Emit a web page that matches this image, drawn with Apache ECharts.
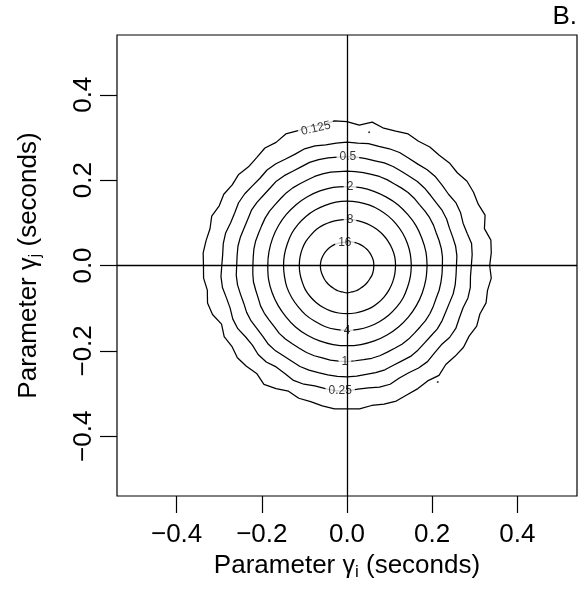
<!DOCTYPE html>
<html><head><meta charset="utf-8">
<script src="https://cdn.jsdelivr.net/npm/echarts@6/dist/echarts.min.js"></script>
<style>html,body{margin:0;padding:0;background:#fff}#c{width:584px;height:597px}</style>
</head><body><div id="c"></div><script>
// sample angles (degrees, counter-clockwise from +x) at which contour radii were read
const angles36 = [0,10,20,30,40,50,60,70,80,90,100,110,120,130,140,150,160,170,180,190,200,210,220,230,240,250,260,270,280,290,300,310,320,330,340,350];
const angles72 = [0,5,10,15,20,25,30,35,40,45,50,55,60,65,70,75,80,85,90,95,100,105,110,115,120,125,130,135,140,145,150,155,160,165,170,175,180,185,190,195,200,205,210,215,220,225,230,235,240,245,250,255,260,265,270,275,280,285,290,295,300,305,310,315,320,325,330,335,340,345,350,355];
const levels = ['16','8','4','2','1','0.5','0.25','0.125'];
// inner contours (smooth), read every 10 degrees
const r16 = [0.063,0.063,0.062,0.061,0.060,0.059,0.058,0.057,0.056,0.055,0.055,0.056,0.057,0.058,0.059,0.060,0.061,0.062,0.0625,0.0625,0.062,0.062,0.062,0.062,0.062,0.063,0.063,0.064,0.063,0.063,0.062,0.062,0.062,0.062,0.063,0.063];
const r8 = [0.114,0.114,0.113,0.112,0.111,0.110,0.109,0.108,0.108,0.108,0.108,0.109,0.110,0.111,0.111,0.112,0.112,0.112,0.112,0.112,0.112,0.113,0.113,0.113,0.113,0.113,0.113,0.113,0.113,0.113,0.114,0.114,0.114,0.114,0.114,0.114];
const r4 = [0.151,0.151,0.151,0.151,0.151,0.151,0.151,0.151,0.151,0.151,0.151,0.150,0.150,0.150,0.150,0.150,0.149,0.149,0.149,0.149,0.150,0.150,0.150,0.151,0.151,0.152,0.152,0.152,0.152,0.152,0.152,0.152,0.152,0.152,0.151,0.151];
const r2 = [0.188,0.188,0.187,0.187,0.186,0.186,0.185,0.185,0.185,0.185,0.186,0.186,0.186,0.186,0.186,0.186,0.186,0.186,0.186,0.187,0.187,0.187,0.187,0.188,0.188,0.188,0.188,0.188,0.188,0.188,0.188,0.188,0.188,0.188,0.188,0.188];
// outer contours (jagged), read every 5 degrees
const r1 = [0.224,0.225,0.225,0.224,0.223,0.224,0.224,0.223,0.222,0.223,0.223,0.222,0.221,0.222,0.222,0.221,0.221,0.221,0.221,0.221,0.222,0.222,0.222,0.221,0.221,0.222,0.222,0.221,0.221,0.222,0.222,0.221,0.221,0.222,0.222,0.221,0.221,0.222,0.223,0.222,0.222,0.224,0.224,0.223,0.223,0.225,0.225,0.224,0.224,0.225,0.225,0.224,0.225,0.225,0.225,0.224,0.224,0.225,0.225,0.224,0.224,0.225,0.225,0.224,0.224,0.225,0.225,0.224,0.223,0.224,0.224,0.224];
const r05 = [0.257,0.259,0.259,0.257,0.256,0.258,0.258,0.256,0.256,0.257,0.257,0.255,0.255,0.256,0.256,0.254,0.254,0.255,0.255,0.255,0.256,0.257,0.257,0.255,0.255,0.257,0.258,0.256,0.256,0.258,0.259,0.257,0.257,0.259,0.260,0.259,0.259,0.261,0.261,0.259,0.258,0.260,0.260,0.258,0.258,0.261,0.261,0.259,0.259,0.261,0.261,0.260,0.260,0.261,0.261,0.260,0.259,0.260,0.260,0.258,0.258,0.260,0.259,0.257,0.257,0.259,0.258,0.256,0.256,0.258,0.258,0.257];
const r025 = [0.292,0.295,0.297,0.292,0.290,0.294,0.295,0.291,0.292,0.294,0.293,0.290,0.290,0.292,0.291,0.289,0.290,0.288,0.289,0.288,0.287,0.290,0.291,0.288,0.288,0.291,0.292,0.289,0.290,0.293,0.294,0.291,0.291,0.295,0.295,0.293,0.294,0.297,0.297,0.293,0.292,0.296,0.296,0.291,0.290,0.295,0.295,0.290,0.292,0.297,0.296,0.292,0.293,0.295,0.294,0.291,0.291,0.295,0.296,0.291,0.290,0.293,0.294,0.290,0.289,0.294,0.295,0.291,0.290,0.294,0.294,0.291];
const r0125 = [0.335,0.340,0.343,0.334,0.345,0.340,0.343,0.344,0.338,0.340,0.337,0.339,0.336,0.340,0.335,0.333,0.341,0.330,0.337,0.340,0.334,0.338,0.336,0.340,0.333,0.336,0.330,0.327,0.332,0.329,0.334,0.331,0.338,0.333,0.336,0.339,0.337,0.338,0.333,0.339,0.336,0.325,0.333,0.330,0.336,0.334,0.330,0.340,0.333,0.325,0.331,0.330,0.334,0.337,0.336,0.337,0.333,0.336,0.338,0.334,0.333,0.330,0.336,0.328,0.331,0.334,0.331,0.336,0.332,0.338,0.335,0.340];
// contour labels: [x, y, text, rotation]
const contourLabels = [
  [-0.073, 0.321, '0.125', 13],
  [0.002, 0.256, '0.5', 0],
  [0.007, 0.184, '2', 0],
  [0.007, 0.108, '8', 0],
  [-0.005, 0.054, '16', 0],
  [0.000, -0.152, '4', 0],
  [-0.005, -0.225, '1', 0],
  [-0.016, -0.293, '0.25', 0]
];
const strayPoints = [[0.052, 0.312], [0.213, -0.273]];
const tickValues = [-0.4, -0.2, 0, 0.2, 0.4];
const tickLabels = ['\u22120.4', '\u22120.2', '0.0', '0.2', '0.4'];
const axisMin = -0.54, axisMax = 0.54;

const FONT = '"Liberation Sans", Arial, Helvetica, sans-serif';
const contours = [
  { r: r16, a: angles36, smooth: 0.35 },
  { r: r8, a: angles36, smooth: 0.35 },
  { r: r4, a: angles36, smooth: 0.35 },
  { r: r2, a: angles36, smooth: 0.35 },
  { r: r1, a: angles72, smooth: false },
  { r: r05, a: angles72, smooth: false },
  { r: r025, a: angles72, smooth: false },
  { r: r0125, a: angles72, smooth: false }
];

function ring(rs, ang) {
  const pts = rs.map((r, i) => {
    const a = ang[i] * Math.PI / 180;
    return [r * Math.cos(a), r * Math.sin(a)];
  });
  pts.push(pts[0]);
  return pts;
}
function fmtTick(v) {
  let best = 0;
  tickValues.forEach((t, i) => { if (Math.abs(t - v) < Math.abs(tickValues[best] - v)) best = i; });
  return tickLabels[best];
}

const series = [];
contours.forEach((c, k) => {
  series.push({
    type: 'line', name: levels[k], data: ring(c.r, c.a), symbol: 'none', smooth: c.smooth,
    lineStyle: { color: '#000', width: 1.25 }, z: 2, silent: true
  });
});
series.push({
  type: 'scatter', data: strayPoints, symbolSize: 2, itemStyle: { color: '#000' }, z: 2, silent: true
});
series.push({
  type: 'scatter', z: 3, silent: true, symbolSize: 0,
  data: contourLabels.map(d => ({
    value: [d[0], d[1]],
    label: {
      show: true, position: 'inside', formatter: d[2], rotate: d[3],
      fontFamily: FONT, fontSize: 12, color: '#000',
      backgroundColor: '#fff', padding: [0, 3, 0, 3]
    }
  }))
});
series.push({
  type: 'line', data: [], z: 5, silent: true,
  markLine: {
    silent: true, symbol: 'none', animation: false,
    lineStyle: { color: '#000', width: 1.3, type: 'solid' },
    label: { show: false },
    data: [{ xAxis: 0 }, { yAxis: 0 }]
  }
});

const richName = {
  t: { fontFamily: FONT, fontSize: 26, color: '#000', lineHeight: 30 },
  g: { fontFamily: FONT, fontSize: 25, color: '#000', lineHeight: 30 },
  s: { fontFamily: FONT, fontSize: 17, color: '#000', lineHeight: 17, verticalAlign: 'bottom' }
};

const chart = echarts.init(document.getElementById('c'), null, { renderer: 'canvas' });
chart.setOption({
  animation: false,
  backgroundColor: '#fff',
  grid: { left: 117, top: 35, width: 460, height: 461, show: true, borderColor: '#000', borderWidth: 1.2, backgroundColor: 'transparent' },
  xAxis: {
    type: 'value', min: axisMin, max: axisMax,
    axisLine: { show: false, onZero: false }, splitLine: { show: false },
    axisTick: { show: true, inside: false, length: 17, customValues: tickValues, lineStyle: { color: '#000', width: 1.2 } },
    axisLabel: { customValues: tickValues, formatter: fmtTick, margin: 26, fontFamily: FONT, fontSize: 26, color: '#000' },
    name: '{t|Parameter }{g|\u03b3}{s|i}{t| (seconds)}', nameLocation: 'middle', nameGap: 55,
    nameTextStyle: { fontFamily: FONT, color: '#000', rich: richName }
  },
  yAxis: {
    type: 'value', min: axisMin, max: axisMax,
    axisLine: { show: false, onZero: false }, splitLine: { show: false },
    axisTick: { show: true, inside: false, length: 17, customValues: tickValues, lineStyle: { color: '#000', width: 1.2 } },
    axisLabel: { customValues: tickValues, formatter: fmtTick, margin: 20, rotate: 90, fontFamily: FONT, fontSize: 26, color: '#000' },
    name: '{t|Parameter }{g|\u03b3}{s|j}{t| (seconds)}', nameLocation: 'middle', nameGap: 73, nameRotate: 90,
    nameTextStyle: { fontFamily: FONT, color: '#000', rich: richName }
  },
  graphic: [{
    type: 'text', right: 7, top: 4,
    style: { text: 'B.', fontFamily: FONT, fontSize: 26, fill: '#000' }
  }],
  series: series
});
</script></body></html>
